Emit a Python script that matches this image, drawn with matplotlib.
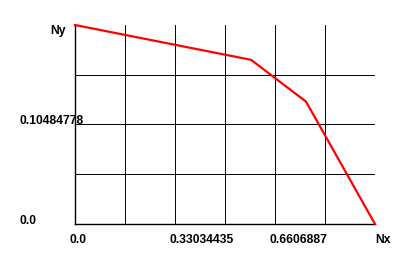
import matplotlib
matplotlib.use("Agg")
import matplotlib.pyplot as plt

# data
Nx = 0.99103305
Ny = 0.20969556
xs = [0.0, 0.5815, 0.7631, Nx]
ys = [Ny, 0.1730, 0.1290, 0.0]
x_tick_labels = ["0.0", "0.33034435", "0.6606887", "Nx"]
y_tick_labels = ["0.0", "0.10484778", "Ny"]

W, H = 400, 275
fig = plt.figure(figsize=(4, 2.75), dpi=100)
fig.patch.set_facecolor("white")
L, B, R, T = 75, 224, 375, 25
ax = fig.add_axes([L / W, (H - B) / H, (R - L) / W, (B - T) / H])
ax.set_xlim(0, Nx)
ax.set_ylim(0, Ny)

# grid
for i in range(1, 6):
    ax.axvline(Nx * i / 6, color="black", lw=0.7, zorder=1)
for j in range(1, 4):
    ax.axhline(Ny * j / 4, color="black", lw=0.7, zorder=1)
for name, s in ax.spines.items():
    if name in ("left", "bottom"):
        s.set_linewidth(1.0)
        s.set_color("black")
    else:
        s.set_visible(False)
ax.set_xticks([])
ax.set_yticks([])

ax.plot(xs, ys, color="red", lw=1.6, clip_on=False, zorder=3)

font = dict(family="Liberation Sans", fontweight="bold", fontsize=8.7, color="black")

def px(x, y, s, ha="left"):
    fig.text(x / W, 1 - y / H, s, ha=ha, va="center", **font)

# x labels
px(70, 240, x_tick_labels[0])
px(170, 240, x_tick_labels[1])
px(270, 240, x_tick_labels[2])
px(375, 240, x_tick_labels[3])
# y labels
px(20, 221, y_tick_labels[0])
px(20, 121, y_tick_labels[1])
px(50, 31, y_tick_labels[2])

fig.savefig("out.png", dpi=100, facecolor="white")
